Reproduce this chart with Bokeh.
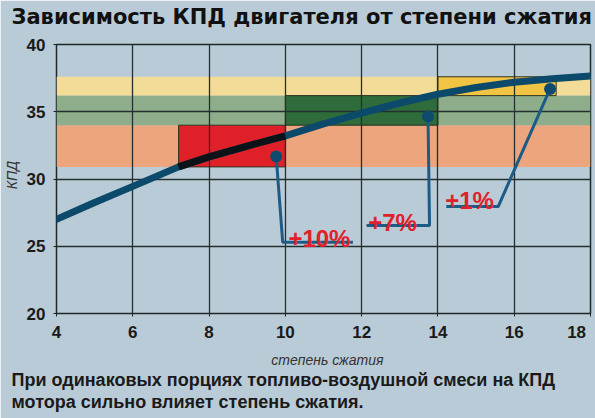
from bokeh.plotting import figure
from bokeh.models import FixedTicker, Range1d, Title
from bokeh.core.properties import value
from bokeh.embed import file_html
from bokeh.resources import INLINE

# ---- data ----
title_text = "Зависимость КПД двигателя от степени сжатия"
x_label = "степень сжатия"
y_label = "КПД"
note_line1 = "При одинаковых порциях топливо-воздушной смеси на КПД"
note_line2 = "мотора сильно влияет степень сжатия."

x_ticks = [4, 6, 8, 10, 12, 14, 16, 18]
y_ticks = [20, 25, 30, 35, 40]

# efficiency curve (compression ratio -> efficiency, %)
eff_x = [4, 5, 6, 7.2, 8, 9, 10, 11, 12, 13, 14, 15, 16, 17, 18]
eff_y = [27.0, 28.25, 29.45, 30.9, 31.65, 32.45, 33.2, 34.1, 34.9, 35.65, 36.3, 36.8, 37.2, 37.45, 37.65]

# horizontal efficiency bands
band_bottom = [30.9, 34.0, 36.2]
band_top = [34.0, 36.2, 37.6]
band_colors = ["#eca57c", "#8eae8b", "#f3dc98"]

# highlighted compression-ratio ranges
box_left = [7.2, 10.0, 14.0]
box_right = [10.0, 14.0, 17.1]
box_bottom = [30.9, 34.0, 36.2]
box_top = [34.0, 36.2, 37.6]
box_colors = ["#df2029", "#2e6c3b", "#f1c443"]

# callout points and labels
dot_x = [9.76, 13.74, 16.94]
dot_y = [31.67, 34.65, 36.7]
elbow_x = [9.93, 13.78, 15.58]
elbow_y = [25.3, 26.55, 27.95]
end_x = [11.77, 12.13, 14.22]
gain_labels = ["+10%", "+7%", "+1%"]
gain_x = [10.08, 12.17, 14.19]
gain_y = [25.6, 26.75, 28.4]

BG = "#b9cbd6"
FONT = "Liberation Sans"
NB = "\u00a0"

p = figure(width=595, height=418,
           x_range=Range1d(4, 18), y_range=Range1d(20, 40),
           output_backend="svg", toolbar_location=None,
           min_border_left=53, min_border_right=5,
           min_border_top=44, min_border_bottom=105)

p.background_fill_color = BG
p.border_fill_color = BG
p.outline_line_color = "#1e2828"
p.outline_line_width = 1.5

# bands (below grid)
p.quad(left=[x_ticks[0]] * len(band_bottom), right=[x_ticks[-1]] * len(band_bottom),
       bottom=band_bottom, top=band_top, fill_color=band_colors,
       line_color=None, level="image")
p.quad(left=box_left, right=box_right, bottom=box_bottom, top=box_top,
       fill_color=box_colors, line_color="#2e3320", line_width=1, level="image")

# grid
for g, t in ((p.xgrid, x_ticks), (p.ygrid, y_ticks)):
    g.ticker = FixedTicker(ticks=t)
    g.grid_line_color = "#243030"
    g.grid_line_width = 1.3
    g.grid_line_alpha = 1.0

# curve
p.line(eff_x, eff_y, line_color="#0c4a6b", line_width=7, line_cap="round")
p.line(eff_x[3:7], eff_y[3:7], line_color="#0b1218", line_width=7)

# leaders
xs = [[dx, ex, nx] for dx, ex, nx in zip(dot_x, elbow_x, end_x)]
ys = [[dy, ey, ey] for dy, ey in zip(dot_y, elbow_y)]
p.multi_line(xs, ys, line_color="#1d5b86", line_width=3)
p.scatter(dot_x, dot_y, size=12, fill_color="#0e4a6e", line_color=None)

p.text(gain_x, gain_y, text=gain_labels, text_color="#e0202a",
       text_font=value(FONT), text_font_style="bold",
       text_font_size="24px", text_baseline="alphabetic", text_align="left")

# axes
for ax, t in ((p.xaxis[0], x_ticks), (p.yaxis[0], y_ticks)):
    ax.ticker = FixedTicker(ticks=t)
    ax.axis_line_color = None
    ax.major_tick_line_color = "#222"
    ax.major_tick_out = 3
    ax.major_tick_in = 0
    ax.minor_tick_line_color = None
    ax.major_label_text_font = FONT
    ax.major_label_text_font_style = "bold"
    ax.major_label_text_font_size = "17px"
    ax.major_label_text_color = "#1a1a1a"
    ax.axis_label_text_font = FONT
    ax.axis_label_text_font_style = "italic"
    ax.axis_label_text_font_size = "14px"
    ax.axis_label_text_color = "#333333"

p.xaxis.axis_label = NB * 2 + x_label
p.xaxis.major_label_standoff = 6
p.xaxis.axis_label_standoff = 7
# keep the last tick label inside the page, as in the original
p.xaxis.major_label_overrides = {18: "18" + NB * 2}
p.yaxis.axis_label = NB * 2 + y_label
p.yaxis.major_label_standoff = 8
p.yaxis.axis_label_standoff = 4
p.yaxis.major_label_orientation = "horizontal"

# spacer between frame and title, then the title
p.add_layout(Title(text=NB, text_font_size="1px", standoff=13,
                   text_color=BG), "above")
p.add_layout(Title(text=title_text, align="left", offset=-45, standoff=0,
                   text_font="DejaVu Sans", text_font_style="bold",
                   text_font_size="21px", text_color="#111111"), "above")
p.add_layout(Title(text=note_line1, align="left", offset=-45, standoff=-6,
                   text_font=FONT, text_font_style="bold",
                   text_font_size="18px", text_color="#1a1a1a"), "below")
p.add_layout(Title(text=note_line2, align="left", offset=-45, standoff=6,
                   text_font=FONT, text_font_style="bold",
                   text_font_size="18px", text_color="#1a1a1a"), "below")

open("out.html", "w").write(file_html(p, INLINE))
